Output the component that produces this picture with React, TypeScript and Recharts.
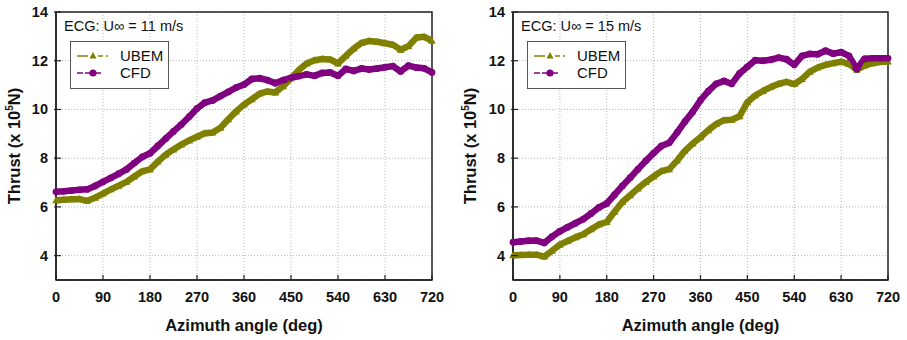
import React from 'react';
import {
  CartesianGrid,
  Legend,
  Line,
  LineChart,
  ReferenceArea,
  XAxis,
  YAxis
} from 'recharts';

const ANGLES = [
  0, 15, 30, 45, 60, 75, 90, 105, 120, 135, 150, 165, 180, 195, 210, 225, 240, 255, 270, 285, 300, 315, 330, 345,
  360, 375, 390, 405, 420, 435, 450, 465, 480, 495, 510, 525, 540, 555, 570, 585, 600, 615, 630, 645, 660, 675, 690,
  705, 720
];

const UBEM_11 = [
  6.27, 6.29, 6.31, 6.32, 6.25, 6.38, 6.55, 6.72, 6.87, 7.03, 7.25, 7.46, 7.54, 7.86, 8.14, 8.36, 8.56, 8.73, 8.88,
  9.02, 9.05, 9.25, 9.6, 9.92, 10.2, 10.42, 10.65, 10.74, 10.7, 10.95, 11.28, 11.62, 11.89, 12.02, 12.07, 12.05, 11.89,
  12.2, 12.5, 12.73, 12.81, 12.78, 12.72, 12.66, 12.45, 12.6, 12.95, 12.98, 12.82
];

const CFD_11 = [
  6.62, 6.64, 6.67, 6.7, 6.72, 6.86, 7.03, 7.19, 7.36, 7.54, 7.8, 8.05, 8.2, 8.5, 8.8, 9.1, 9.38, 9.7, 10.04, 10.28,
  10.37, 10.55, 10.72, 10.9, 11.02, 11.25, 11.28, 11.2, 11.08, 11.2, 11.3, 11.37, 11.44, 11.38, 11.5, 11.52, 11.38,
  11.66, 11.58, 11.68, 11.64, 11.68, 11.73, 11.78, 11.56, 11.8, 11.72, 11.69, 11.52
];

const UBEM_15 = [
  4.02, 4.03, 4.04, 4.04, 3.96, 4.2, 4.45, 4.6, 4.75, 4.88, 5.08, 5.28, 5.38, 5.8, 6.2, 6.48, 6.76, 7.02, 7.25, 7.47,
  7.55, 7.9, 8.3, 8.6, 8.86, 9.15, 9.4, 9.56, 9.58, 9.72, 10.3, 10.57, 10.76, 10.92, 11.05, 11.13, 11.04, 11.25, 11.55,
  11.72, 11.83, 11.9, 11.96, 11.87, 11.63, 11.8, 11.9, 11.95, 11.97
];

const CFD_15 = [
  4.55, 4.58, 4.61, 4.62, 4.52, 4.78, 5.0, 5.17, 5.33, 5.5, 5.73, 5.98, 6.14, 6.5, 6.86, 7.2, 7.55, 7.89, 8.21, 8.5,
  8.63, 9.05, 9.5, 9.9, 10.38, 10.75, 11.05, 11.17, 11.05, 11.48, 11.75, 12.02, 12.0, 12.04, 12.13, 12.06, 11.83, 12.2,
  12.28, 12.27, 12.41, 12.29, 12.35, 12.2, 11.65, 12.08, 12.1, 12.1, 12.1
];

const X_TICKS = [0, 90, 180, 270, 360, 450, 540, 630, 720];
const Y_TICKS = [4, 6, 8, 10, 12, 14];

const OLIVE = '#808000';
const PURPLE = '#800080';
const FONT = '"Liberation Sans", Arial, Helvetica, sans-serif';

function XTick({ x, y, payload }: any) {
  return (
    <g>
      <line x1={x} y1={y} x2={x} y2={y - 5} stroke="#222" strokeWidth={1.2} />
      <text x={x} y={y + 22} textAnchor="middle" fontFamily={FONT} fontWeight="bold" fontSize={14.5} fill="#111">
        {payload.value}
      </text>
    </g>
  );
}

function YTick({ x, y, payload }: any) {
  return (
    <g>
      <line x1={x - 2} y1={y} x2={x + 5} y2={y} stroke="#222" strokeWidth={1.2} />
      <text x={x - 8} y={y + 5} textAnchor="end" fontFamily={FONT} fontWeight="bold" fontSize={14.5} fill="#111">
        {payload.value}
      </text>
    </g>
  );
}

function YTitle({ viewBox, shift }: any) {
  const cx = viewBox.x + shift;
  const cy = viewBox.y + viewBox.height / 2;
  return (
    <text
      transform={`translate(${cx},${cy}) rotate(-90)`}
      textAnchor="middle"
      dy={6}
      fontFamily={FONT}
      fontWeight="bold"
      fontSize={16.5}
      fill="#111"
    >
      Thrust (x 10<tspan dy={-7} fontSize={10}>5</tspan>
      <tspan dy={7}>N)</tspan>
    </text>
  );
}

function TriangleDot({ cx, cy, index }: any) {
  return <polygon key={`t${index}`} points={`${cx},${cy - 4} ${cx - 3.8},${cy + 3} ${cx + 3.8},${cy + 3}`} fill={OLIVE} />;
}

function CircleDot({ cx, cy, index }: any) {
  return <circle key={`c${index}`} cx={cx} cy={cy} r={3.4} fill={PURPLE} />;
}

function LegendBox() {
  return (
    <div
      style={{
        width: 99,
        height: 48,
        border: '1.5px solid #555',
        background: '#fff',
        boxSizing: 'border-box',
        position: 'relative',
        fontFamily: FONT,
        fontSize: 15,
        color: '#111'
      }}
    >
      <svg width={40} height={46} style={{ position: 'absolute', left: 4, top: 0 }}>
        <line x1={2} y1={14} x2={13} y2={14} stroke={OLIVE} strokeWidth={1.5} />
        <polygon points="18,10 14.5,16.5 21.5,16.5" fill={OLIVE} />
        <line x1={23} y1={14} x2={28} y2={14} stroke={OLIVE} strokeWidth={1.5} />
        <line x1={31} y1={14} x2={33} y2={14} stroke={OLIVE} strokeWidth={1.5} />
        <line x1={2} y1={31} x2={8} y2={31} stroke={PURPLE} strokeWidth={1.5} />
        <line x1={10} y1={31} x2={26} y2={31} stroke={PURPLE} strokeWidth={1.5} />
        <circle cx={18} cy={31} r={3.6} fill={PURPLE} />
      </svg>
      <div style={{ position: 'absolute', left: 49, top: 5 }}>UBEM</div>
      <div style={{ position: 'absolute', left: 49, top: 22 }}>CFD</div>
    </div>
  );
}

interface PanelProps {
  speed: number;
  ubem: number[];
  cfd: number[];
  left: number;
  width: number;
  axisWidth: number;
  rightMargin: number;
  titleShift: number;
}

function Panel({ speed, ubem, cfd, left, width, axisWidth, rightMargin, titleShift }: PanelProps) {
  const data = ANGLES.map((angle, i) => ({ angle, ubem: ubem[i], cfd: cfd[i] }));
  return (
    <div style={{ position: 'absolute', left, top: 0, width, height: 340 }}>
      <LineChart width={width} height={340} data={data} margin={{ top: 12, right: rightMargin, bottom: 0, left: 0 }}>
        <CartesianGrid stroke="#b5b5b5" strokeDasharray="1 2" />
        <XAxis
          dataKey="angle"
          type="number"
          domain={[0, 720]}
          ticks={X_TICKS}
          height={60}
          tickSize={0}
          tickMargin={0}
          tick={<XTick />}
          axisLine={{ stroke: '#222', strokeWidth: 1.5 }}
          label={{
            value: 'Azimuth angle (deg)',
            position: 'insideBottom',
            offset: 9,
            fontFamily: FONT,
            fontWeight: 'bold',
            fontSize: 16.5,
            fill: '#111'
          }}
        />
        <YAxis
          type="number"
          domain={[3, 14]}
          ticks={Y_TICKS}
          width={axisWidth}
          tickSize={0}
          tickMargin={0}
          tick={<YTick />}
          axisLine={{ stroke: '#222', strokeWidth: 1.5 }}
          label={(props: any) => <YTitle {...props} shift={titleShift} />}
        />
        <ReferenceArea x1={0} x2={720} y1={3} y2={14} fill="none" fillOpacity={0} stroke="#222" strokeWidth={1.5} />
        <Line
          dataKey="ubem"
          name="UBEM"
          stroke={OLIVE}
          strokeWidth={6.5}
          strokeLinejoin="round"
          dot={(p: any) => <TriangleDot key={`t${p.index}`} {...p} />}
          isAnimationActive={false}
        />
        <Line
          dataKey="cfd"
          name="CFD"
          stroke={PURPLE}
          strokeWidth={6.5}
          strokeLinejoin="round"
          dot={(p: any) => <CircleDot key={`c${p.index}`} {...p} />}
          isAnimationActive={false}
        />
        <Legend
          layout="vertical"
          align="center"
          verticalAlign="middle"
          wrapperStyle={{ left: axisWidth + 14, top: 41, width: 99, height: 48 }}
          content={() => <LegendBox />}
        />
      </LineChart>
      <div
        style={{
          position: 'absolute',
          left: axisWidth + 8,
          top: 18,
          fontFamily: FONT,
          fontSize: 14.5,
          color: '#111',
          whiteSpace: 'nowrap'
        }}
      >
        ECG: U∞ = {speed} m/s
      </div>
    </div>
  );
}

export default function App() {
  return (
    <div style={{ position: 'absolute', left: 0, top: 0, width: 907, height: 340, background: '#fff' }}>
      <Panel speed={11} ubem={UBEM_11} cfd={CFD_11} left={0} width={455} axisWidth={56} rightMargin={23} titleShift={14} />
      <Panel speed={15} ubem={UBEM_15} cfd={CFD_15} left={455} width={452} axisWidth={58} rightMargin={19} titleShift={15} />
    </div>
  );
}
